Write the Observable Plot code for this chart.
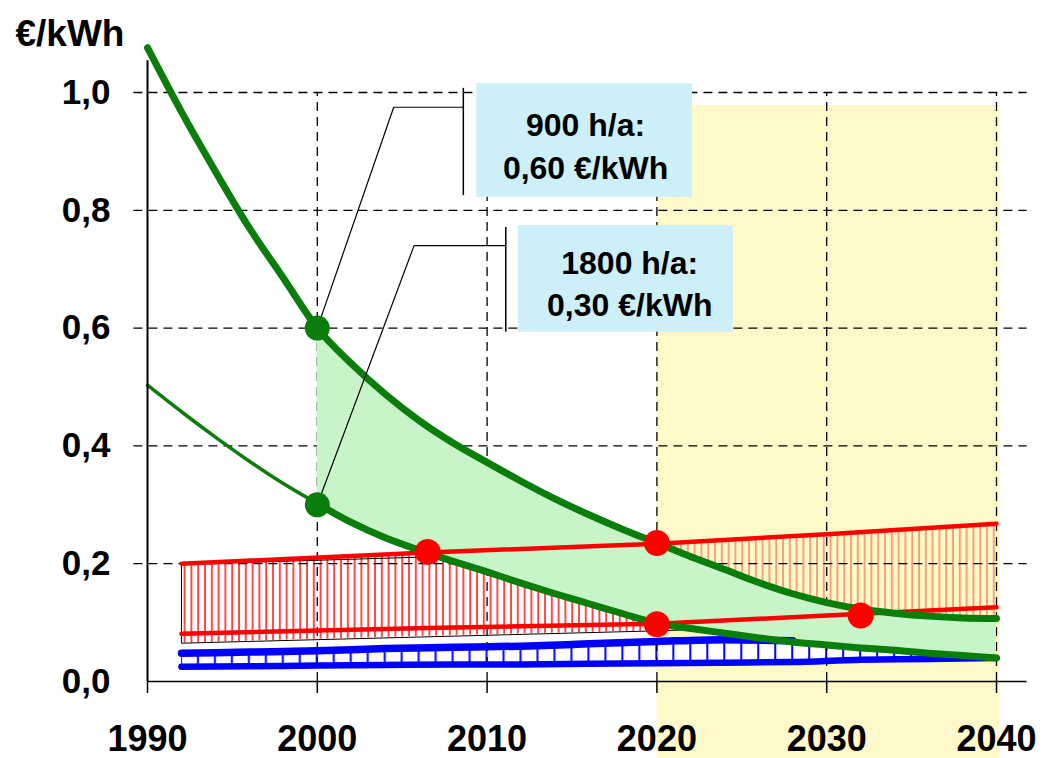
<!DOCTYPE html>
<html>
<head>
<meta charset="utf-8">
<script src="https://cdn.jsdelivr.net/npm/d3@7"></script>
<script src="https://cdn.jsdelivr.net/npm/@observablehq/plot@0.6"></script>
<style>
  html, body { margin: 0; padding: 0; background: #fff; }
  #chart svg { display: block; }
</style>
</head>
<body>
<div id="chart"></div>
<script>
// ---------- data ----------
const years = [1990,1992,1994,1996,1998,2000,2002,2004,2006,2008,2010,2012,2014,2016,2018,2020,2022,2024,2026,2028,2030,2032,2034,2036,2038,2040];
// PV cost at 900 h/a (upper green curve), €/kWh
const cost900 = [1.076,0.967,0.866,0.770,0.685,0.600,0.540,0.488,0.443,0.405,0.372,0.340,0.310,0.283,0.258,0.235,0.212,0.190,0.168,0.149,0.134,0.123,0.116,0.111,0.108,0.107];
// PV cost at 1800 h/a (lower green curve), €/kWh
const cost1800 = [0.503,0.458,0.415,0.374,0.336,0.302,0.270,0.244,0.223,0.204,0.186,0.167,0.149,0.132,0.115,0.099,0.090,0.082,0.074,0.067,0.062,0.057,0.053,0.048,0.044,0.040];

// red band (consumer electricity prices)
const redYears = [1992, 2006.5, 2020, 2030, 2040];
const redUpper = [0.200, 0.219, 0.234, 0.250, 0.268];
const redLower = [0.081, 0.091, 0.098, 0.112, 0.126];
const redHatchBottom = [0.065, 0.077, 0.086, 0.095, 0.105];

// blue band (generation cost of conventional power)
const blueYears = [1992,1996,2000,2004,2008,2012,2016,2020,2024,2028,2032,2036,2040];
const blueUpper = [0.048,0.050,0.052,0.056,0.058,0.060,0.064,0.068,0.071,0.069,0.058,0.048,0.040];
const blueLower = [0.025,0.026,0.027,0.028,0.029,0.029,0.030,0.031,0.032,0.033,0.037,0.038,0.040];

// highlighted points
const greenPointYears = [2000, 2000];
const greenPointValues = [0.60, 0.30];
const redPointYears = [2006.5, 2020, 2020, 2032];
const redPointValues = [0.220, 0.235, 0.097, 0.112];

// labels
const boxLabels = [["900 h/a:", "0,60 €/kWh"], ["1800 h/a:", "0,30 €/kWh"]];
const xTicks = [1990, 2000, 2010, 2020, 2030, 2040];
const yTicks = [0, 0.2, 0.4, 0.6, 0.8, 1.0];
const unitLabel = "€/kWh";

// ---------- annotation geometry (data units) ----------
const boxX1 = [2009.4, 2011.85], boxX2 = [2022.1, 2024.5];
const boxY1 = [0.822, 0.593],   boxY2 = [1.015, 0.774];
const boxTextX = [2015.8, 2018.4];
const boxTextY = [[0.944, 0.870], [0.709, 0.638]];
const leaderYears = [[2000, 2004.5, 2008.6], [2000, 2005.7, 2011.1]];
const leaderValues = [[0.60, 0.975, 0.975], [0.30, 0.740, 0.740]];
const barYears = [2008.6, 2011.1], barFrom = [1.007, 0.771], barTo = [0.825, 0.593];
const forecastSpan = [2020, 2040.2], forecastTop = 0.978, forecastBottom = -0.131;
const gridSpan = [1989.2, 2041.8];
const hatchOutlineYears = [2006, 1992, 1992, 2020, 2040];
const hatchOutlineValues = [0.211, 0.199, 0.065, 0.086, 0.105];

// ---------- tables ----------
const green = years.map((year, i) => ({year, upper: cost900[i], lower: cost1800[i]}));
const red = redYears.map((year, i) => ({year, upper: redUpper[i], lower: redLower[i], bottom: redHatchBottom[i]}));
const blue = blueYears.map((year, i) => ({year, upper: blueUpper[i], lower: blueLower[i]}));
const greenPts = greenPointYears.map((year, i) => ({year, value: greenPointValues[i]}));
const redPts = redPointYears.map((year, i) => ({year, value: redPointValues[i]}));
const boxes = boxX1.map((x1, i) => ({x1, x2: boxX2[i], y1: boxY1[i], y2: boxY2[i]}));
const boxTexts = boxLabels.flatMap((lines, i) => lines.map((text, j) => ({x: boxTextX[i], y: boxTextY[i][j], text})));
const leaders = leaderYears.flatMap((ys, i) => ys.map((year, j) => ({id: i, year, value: leaderValues[i][j]})));
const bars = barYears.map((year, i) => ({year, y1: barFrom[i], y2: barTo[i]}));
const outline = hatchOutlineYears.map((year, i) => ({year, value: hatchOutlineValues[i]}));

const GREEN = "#0b7d0b";
const font = "'Liberation Sans', Arial, Helvetica, sans-serif";

const chart = Plot.plot({
  width: 1055,
  height: 758,
  marginLeft: 147,
  marginRight: 59,
  marginTop: 92,
  marginBottom: 77,
  style: {fontFamily: font, background: "white", color: "black"},
  x: {type: "linear", domain: [1990, 2040], axis: null},
  y: {type: "linear", domain: [0, 1], axis: null},
  marks: [
    // forecast zone
    Plot.rect([0], {x1: forecastSpan[0], x2: forecastSpan[1], y1: forecastBottom, y2: forecastTop, fill: "#fff9c9"}),
    // red hatched band
    Plot.areaY(red.filter(d => d.year <= 2020), {x: "year", y1: "bottom", y2: "upper", fill: "url(#hatchRed)"}),
    Plot.areaY(red.filter(d => d.year >= 2020), {x: "year", y1: "bottom", y2: "upper", fill: "url(#hatchRedLight)"}),
    Plot.line(outline, {x: "year", y: "value", stroke: "black", strokeWidth: 1}),
    // blue band
    Plot.areaY(blue, {x: "year", y1: "lower", y2: "upper", fill: "url(#hatchBlue)", curve: "monotone-x"}),
    // grid
    Plot.ruleY(yTicks.filter(d => d > 0), {x1: gridSpan[0], x2: gridSpan[1], stroke: "black", strokeWidth: 1.3, strokeDasharray: "9,6"}),
    Plot.ruleX(xTicks.filter(d => d > 1990), {y1: 0, y2: 1, stroke: "black", strokeWidth: 1.3, strokeDasharray: "9,6"}),
    // green band
    Plot.areaY(green.filter(d => d.year >= 2000), {x: "year", y1: "lower", y2: "upper", fill: "#c8f5c8", curve: "monotone-x"}),
    // blue lines
    Plot.line(blue.filter(d => d.year <= 2028), {x: "year", y: "upper", stroke: "#0000ff", strokeWidth: 7.5, curve: "monotone-x"}),
    Plot.line(blue, {x: "year", y: "lower", stroke: "#0000ff", strokeWidth: 6.5, curve: "monotone-x"}),
    // red lines
    Plot.line(red, {x: "year", y: "upper", stroke: "#ff0000", strokeWidth: 4.5}),
    Plot.line(red, {x: "year", y: "lower", stroke: "#ff0000", strokeWidth: 4.5}),
    // green curves
    Plot.line(green, {x: "year", y: "upper", stroke: GREEN, strokeWidth: 7, curve: "monotone-x"}),
    Plot.line(green.filter(d => d.year <= 2000), {x: "year", y: "lower", stroke: GREEN, strokeWidth: 3.5, curve: "monotone-x"}),
    Plot.line(green.filter(d => d.year >= 2000), {x: "year", y: "lower", stroke: GREEN, strokeWidth: 7, curve: "monotone-x"}),
    // axes lines and ticks
    Plot.ruleY([0], {x1: 1990, x2: gridSpan[1], stroke: "black", strokeWidth: 1.5}),
    Plot.ruleX([1990], {y1: 0, y2: 1.054, stroke: "black", strokeWidth: 2}),
    Plot.axisX(xTicks, {tickSize: 12, tickPadding: 32, tickFormat: d => String(d), fontSize: 36, fontWeight: "bold", stroke: "black", strokeWidth: 1.5, label: null}),
    Plot.axisY(yTicks, {tickSize: 0, tickPadding: 37, tickFormat: d => d.toFixed(1).replace(".", ","), fontSize: 35, fontWeight: "bold", label: null}),
    // leader lines
    Plot.line(leaders, {x: "year", y: "value", z: "id", stroke: "black", strokeWidth: 1.2}),
    Plot.ruleX(bars, {x: "year", y1: "y1", y2: "y2", stroke: "black", strokeWidth: 1.5}),
    // label boxes
    Plot.rect(boxes, {x1: "x1", x2: "x2", y1: "y1", y2: "y2", fill: "#cdeff8"}),
    Plot.text(boxTexts, {x: "x", y: "y", text: "text", fontSize: 32, fontWeight: "bold", fill: "black", style: "letter-spacing:1.6px"}),
    // dots
    Plot.dot(greenPts, {x: "year", y: "value", r: 12.5, fill: GREEN}),
    Plot.dot(redPts, {x: "year", y: "value", r: 13, fill: "#ff0000"}),
    // unit label
    Plot.text([unitLabel], {frameAnchor: "top-left", text: d => d, textAnchor: "start", lineAnchor: "bottom", dx: -132, dy: -47, fontSize: 37, fontWeight: "bold", fill: "black", style: "letter-spacing:1.5px"})
  ]
});

// hatch patterns
d3.select(chart).insert("defs", ":first-child").html(`
  <pattern id="hatchRed" patternUnits="userSpaceOnUse" width="6.8" height="40">
    <line x1="1" y1="0" x2="1" y2="40" stroke="#ff0000" stroke-width="1.4"/>
  </pattern>
  <pattern id="hatchRedLight" patternUnits="userSpaceOnUse" width="6.8" height="40">
    <line x1="1" y1="0" x2="1" y2="40" stroke="#f26a4a" stroke-width="1.2"/>
  </pattern>
  <pattern id="hatchBlue" patternUnits="userSpaceOnUse" width="16.98" height="40">
    <rect x="0" y="0" width="16.98" height="40" fill="#ffffff"/>
    <line x1="11.16" y1="0" x2="11.16" y2="40" stroke="#0000ff" stroke-width="2"/>
  </pattern>`);

document.getElementById("chart").appendChild(chart);
</script>
</body>
</html>
